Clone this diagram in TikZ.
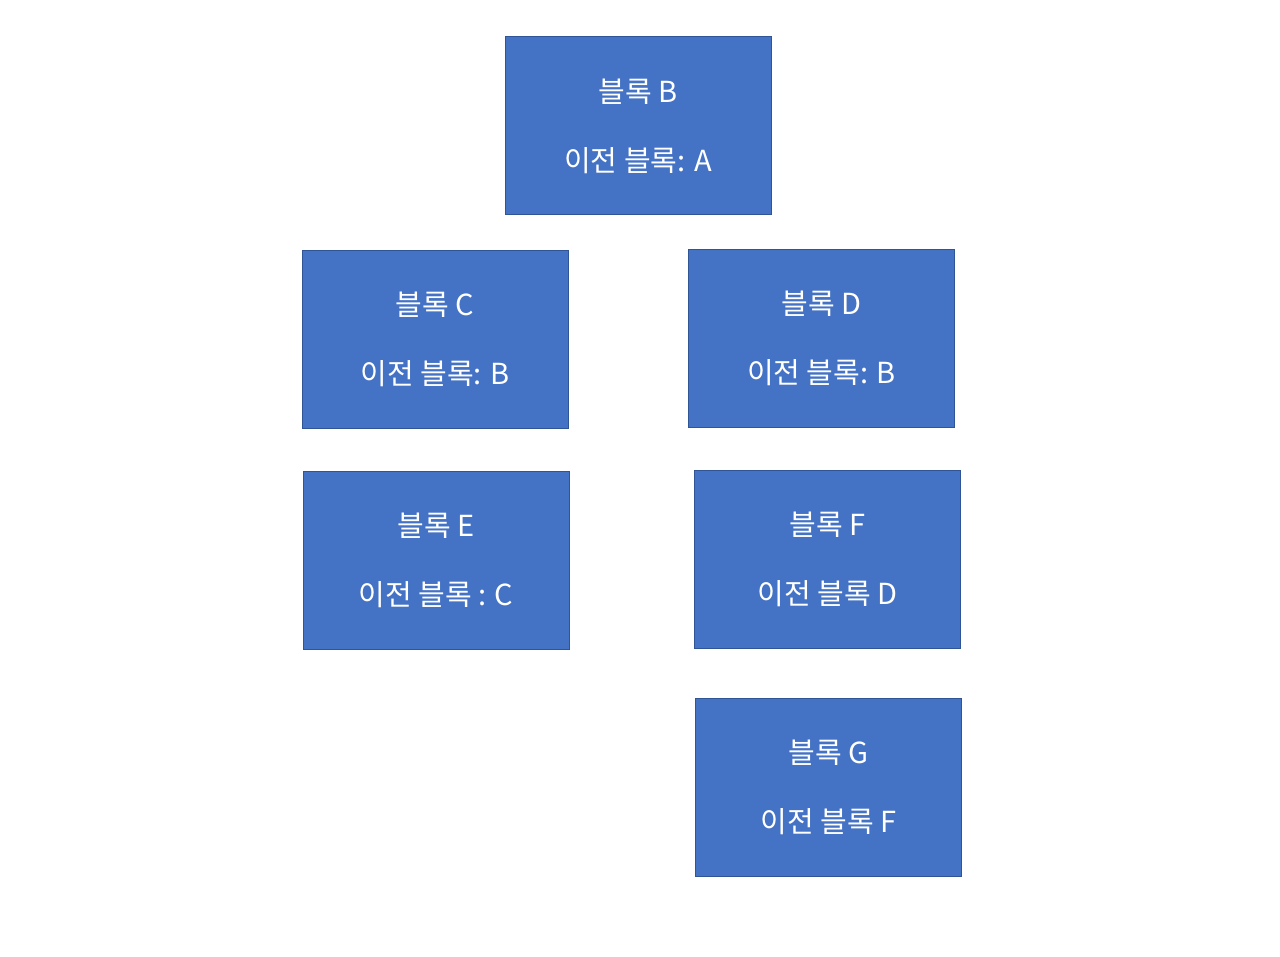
\documentclass[tikz,border=0pt]{standalone}
\usepackage{fontspec}
\setmainfont{Noto Sans CJK KR}
\definecolor{blockblue}{HTML}{4472C4}
\definecolor{blockedge}{HTML}{2F5597}
\tikzset{
  blockbox/.style={draw=blockedge, line width=1pt, fill=blockblue, text=white,
    minimum width=266, minimum height=178, align=center, inner sep=0pt,
    font=\fontsize{29}{29}\selectfont}
}
\begin{document}
\begin{tikzpicture}[x=1pt,y=-1pt]
  \useasboundingbox (0,0) rectangle (1280,957);
  % blocks
  \node[blockbox] (blockB) at (638,126) {블록 B\\[40pt]이전 블록: A};
  \node[blockbox] (blockC) at (435,339.5) {블록 C\\[40pt]이전 블록: B};
  \node[blockbox] (blockD) at (821.5,338.5) {블록 D\\[40pt]이전 블록: B};
  \node[blockbox] (blockE) at (436,560.5) {블록 E\\[40pt]이전 블록 : C};
  \node[blockbox] (blockF) at (827.5,559) {블록 F\\[40pt]이전 블록 D};
  \node[blockbox] (blockG) at (828.5,787.5) {블록 G\\[40pt]이전 블록 F};
\end{tikzpicture}
\end{document}
